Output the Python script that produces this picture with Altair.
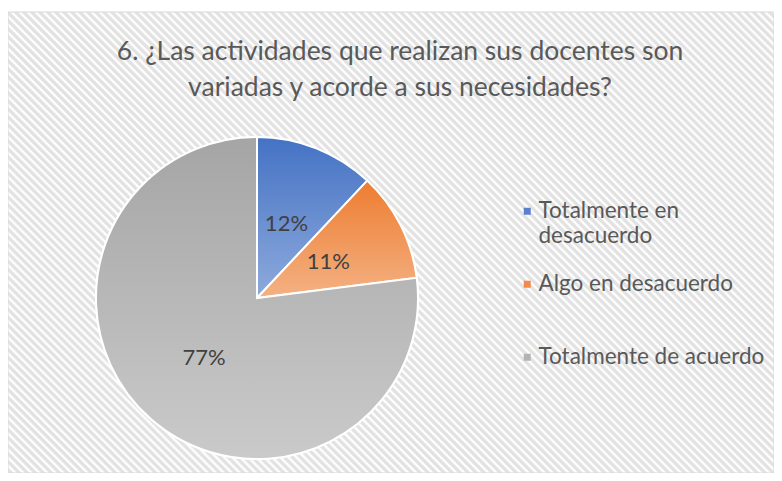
import altair as alt
import pandas as pd

# ---- data ----
categories = ["Totalmente en desacuerdo", "Algo en desacuerdo", "Totalmente de acuerdo"]
values = [12, 11, 77]
pct_labels = ["12%", "11%", "77%"]
legend_colors = ["#5a80cc", "#f08b4c", "#b3b3b3"]
grad_top = ["#4472c4", "#ed7d31", "#a5a5a5"]
grad_bottom = ["#8eaadc", "#f4b183", "#cacaca"]
title_lines = ["6. ¿Las actividades que realizan sus docentes son",
               "variadas y acorde a sus necesidades?"]

df = pd.DataFrame({"cat": categories, "value": values, "label": pct_labels,
                   "idx": list(range(len(categories)))})

W, H = 766, 461
FONT = "Lato"

# diagonal hatch background as a striped linear gradient
c = (W + H) / (W * W + H * H)
period = 8.0
N = int(round((W + H) / period))
stops = []
for k in range(N):
    stops += [
        {"offset": k / N, "color": "#ffffff"},
        {"offset": (k + 0.25) / N, "color": "#e2e2e2"},
        {"offset": (k + 0.6) / N, "color": "#e2e2e2"},
        {"offset": (k + 0.85) / N, "color": "#ffffff"},
    ]
stops.append({"offset": 1.0, "color": "#ffffff"})
hatch = alt.LinearGradient(gradient="linear", x1=0, y1=1, x2=c * W, y2=1 - c * H,
                           stops=[alt.GradientStop(**s) for s in stops])


def vgrad(top, bottom):
    return alt.LinearGradient(gradient="linear", x1=0, y1=0, x2=0, y2=1,
                              stops=[alt.GradientStop(offset=0, color=top),
                                     alt.GradientStop(offset=1, color=bottom)])


CX, CY, R = 249, 286, 161

background = alt.Chart(pd.DataFrame({"bg": [0]})).mark_rect(
    fill=hatch, stroke="#d9d9d9", strokeWidth=1
).encode(x=alt.value(0), x2=alt.value("width"), y=alt.value(0), y2=alt.value("height"))

base = alt.Chart(df)
theta = alt.Theta("value:Q", stack=True)
order = alt.Order("idx:Q")

label_expr = ("datum.label == 'Totalmente en desacuerdo' ? ['Totalmente en', 'desacuerdo'] : "
              "[datum.label, '']")

arcs = base.mark_arc(radius=R, stroke="#ffffff", strokeWidth=2).encode(
    x=alt.value(CX), y=alt.value(CY),
    theta=theta, order=order,
    color=alt.Color("cat:N", sort=categories,
                    scale=alt.Scale(domain=categories, range=legend_colors),
                    legend=alt.Legend(title=None, orient="none", legendX=508, legendY=188,
                                      direction="vertical", padding=0,
                                      labelFont=FONT, labelFontSize=22.5, labelColor="#595959",
                                      labelLimit=400, labelOffset=0, labelExpr=label_expr,
                                      labelBaseline="middle",
                                      symbolType="square", symbolSize=49,
                                      symbolStrokeWidth=0, symbolOpacity=1,
                                      rowPadding=25)),
)

grad_layers = []
for i, cat in enumerate(categories):
    grad_layers.append(
        base.mark_arc(radius=R, stroke="#ffffff", strokeWidth=2,
                      fill=vgrad(grad_top[i], grad_bottom[i])).encode(
            x=alt.value(CX), y=alt.value(CY),
            theta=theta, order=order,
            opacity=alt.condition(alt.datum.cat == cat, alt.value(1), alt.value(0)),
        )
    )

texts = base.mark_text(radius=80, font=FONT, fontSize=22, color="#404040").encode(
    x=alt.value(CX), y=alt.value(CY),
    theta=theta, order=order,
    text="label:N",
)

chart = alt.layer(background, arcs, *grad_layers, texts).properties(
    width=W, height=H,
    autosize="none",
    padding={"left": 0, "top": 4, "right": 0, "bottom": 0},
    title=alt.Title(title_lines, font=FONT, fontSize=26.5, fontWeight="normal", color="#595959",
                    anchor="middle", baseline="alphabetic", offset=0, dy=111, dx=9,
                    lineHeight=36),
).configure_view(stroke=None)

chart.save("out.html", embed_options={"renderer": "svg", "actions": False})
